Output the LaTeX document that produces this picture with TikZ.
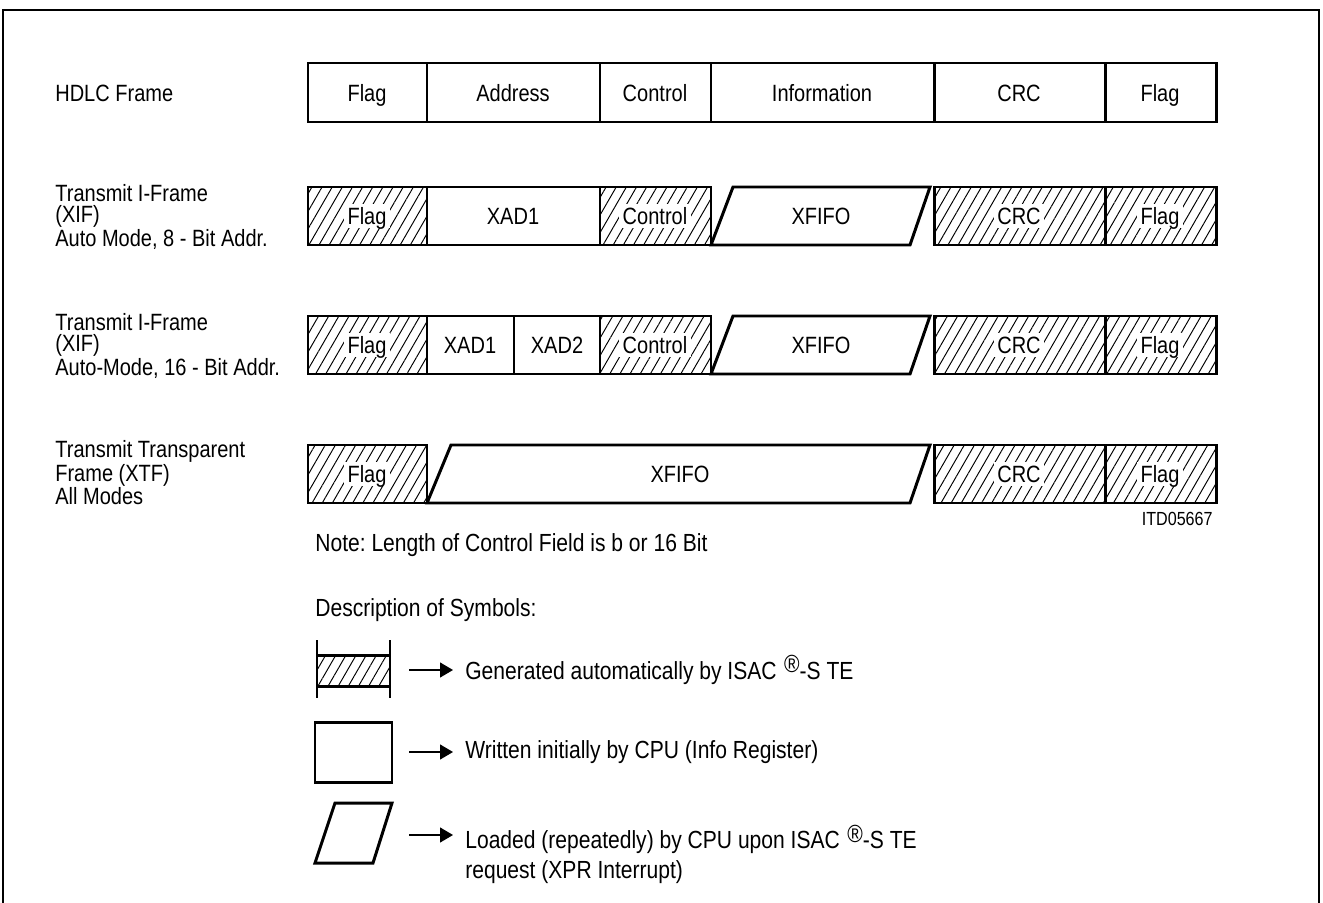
\documentclass[tikz,border=0pt]{standalone}
\usepackage{fontspec}
\setmainfont{Liberation Sans}[FakeStretch=0.85]
\usetikzlibrary{arrows.meta,patterns.meta}
\frenchspacing

\newcommand{\regmark}{\hspace{0.3em}\raisebox{0.25em}{\textregistered}}

\tikzset{
  field/.style={line width=1.7pt},
  hatch/.style={pattern={Lines[angle=60,distance=5pt,line width=0.55pt]}},
  lbl/.style={anchor=north west,align=left,inner sep=0pt},
  fld/.style={text height=10pt,text depth=0pt},
  ftext/.style={fld,inner sep=2pt,fill=white},
  legtext/.style={lbl,anchor=west,font=\fontsize{14.1pt}{17pt}\selectfont},
  legarrow/.style={-{Triangle[length=0.26cm,width=0.3cm]},line width=0.7pt,shorten >=0.24cm},
}

\begin{document}
\begin{tikzpicture}[x=0.02cm,y=-0.02cm,font=\fontsize{13.4pt}{11.9pt}\selectfont]
  \useasboundingbox (0,0) rectangle (1323,903);
  % frame, open at the bottom
  \draw[line width=1.1pt] (3,903) -- (3,10) -- (1319,10) -- (1319,903);

  % HDLC frame
  \node[lbl,anchor=west] (l1) at (55,93) {HDLC Frame};
  \draw[field] (308,63) rectangle (1216,122);
  \foreach \x in {427,600,711,934,1105} \draw[field] (\x,63) -- (\x,122);
  \node[fld] (f1a) at (367,93) {Flag};
  \node[fld] (f1b) at (513,93) {Address};
  \node[fld] (f1c) at (655,93) {Control};
  \node[fld] (f1d) at (822,93) {Information};
  \node[fld] (f1e) at (1019,93) {CRC};
  \node[fld] (f1f) at (1160,93) {Flag};

  % transmit I-frame, 8 bit address
  \node[lbl] (l2) at (55,184) {Transmit I-Frame\\(XIF)\\Auto Mode, 8 - Bit Addr.};
  \foreach \a/\b in {308/427,600/711,934/1105,1105/1216}
    {\fill[hatch] (\a,187) rectangle (\b,245); \draw[field] (\a,187) rectangle (\b,245);}
  \draw[field] (427,187) rectangle (600,245);
  \draw[field] (711,245) -- (733,187) -- (930,187) -- (910,245) -- cycle;
  \node[ftext] (f2a) at (367,216) {Flag};
  \node[fld] (f2b) at (513,216) {XAD1};
  \node[ftext] (f2c) at (655,216) {Control};
  \node[fld] (f2d) at (821,216) {XFIFO};
  \node[ftext] (f2e) at (1019,216) {CRC};
  \node[ftext] (f2f) at (1160,216) {Flag};

  % transmit I-frame, 16 bit address
  \node[lbl] (l3) at (55,313) {Transmit I-Frame\\(XIF)\\Auto-Mode, 16 - Bit Addr.};
  \foreach \a/\b in {308/427,600/711,934/1105,1105/1216}
    {\fill[hatch] (\a,316) rectangle (\b,374); \draw[field] (\a,316) rectangle (\b,374);}
  \draw[field] (427,316) rectangle (514,374) (514,316) rectangle (600,374);
  \draw[field] (711,374) -- (733,316) -- (930,316) -- (910,374) -- cycle;
  \node[ftext] (f3a) at (367,345) {Flag};
  \node[fld] (f3b) at (470,345) {XAD1};
  \node[fld] (f3c) at (557,345) {XAD2};
  \node[ftext] (f3d) at (655,345) {Control};
  \node[fld] (f3e) at (821,345) {XFIFO};
  \node[ftext] (f3f) at (1019,345) {CRC};
  \node[ftext] (f3g) at (1160,345) {Flag};

  % transparent frame
  \node[lbl] (l4) at (55,440) {Transmit Transparent\\Frame (XTF)\\All Modes};
  \foreach \a/\b in {308/427,934/1105,1105/1216}
    {\fill[hatch] (\a,445) rectangle (\b,503); \draw[field] (\a,445) rectangle (\b,503);}
  \draw[field] (427,503) -- (451,445) -- (930,445) -- (910,503) -- cycle;
  \node[ftext] (f4a) at (367,474) {Flag};
  \node[fld] (f4b) at (680,474) {XFIFO};
  \node[ftext] (f4c) at (1019,474) {CRC};
  \node[ftext] (f4d) at (1160,474) {Flag};

  \node[anchor=east,inner sep=0pt,font=\fontsize{10.8pt}{12pt}\selectfont] (itd) at (1213,519) {ITD05667};
  \node[legtext] (note) at (315,545) {Note: Length of Control Field is b or 16 Bit};

  % symbols
  \node[legtext] (desc) at (315,610) {Description of Symbols:};
  \fill[hatch] (317,655) rectangle (390,686);
  \draw[field] (317,655) -- (390,655) (317,686) -- (390,686)
    (317,640) -- (317,698) (390,640) -- (390,698);
  \coordinate (s1) at (409,670);
  \node[legtext] (t1) at (465,670) {Generated automatically by ISAC\regmark-S TE};
  \draw[legarrow] (s1) -- (t1.west);

  \draw[field] (315,722) rectangle (392,782);
  \coordinate (s2) at (409,752);
  \node[legtext] (t2) at (465,752) {Written initially by CPU (Info Register)};
  \draw[legarrow] (s2) -- (t2.west);

  \draw[field] (335,803) -- (392,803) -- (373,863) -- (315,863) -- cycle;
  \coordinate (s3) at (409,835);
  \node[legtext,anchor=north west] (t3) at (465,825)
    {Loaded (repeatedly) by CPU upon ISAC\regmark-S TE\\request (XPR Interrupt)};
  \draw[legarrow] (s3) -- (s3 -| t3.west);
\end{tikzpicture}
\end{document}
